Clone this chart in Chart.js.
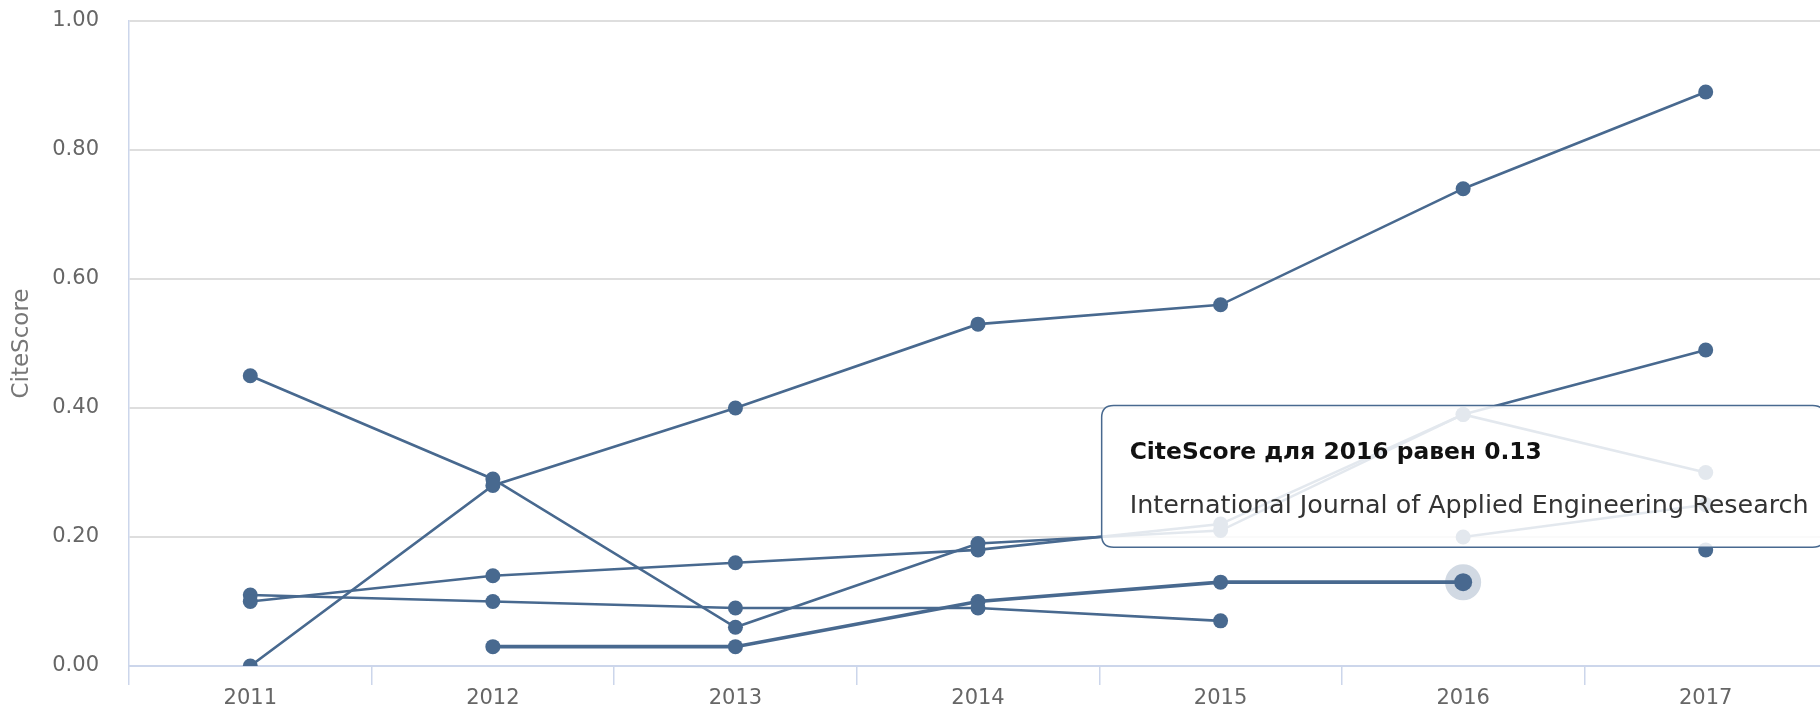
<!DOCTYPE html>
<html>
<head>
<meta charset="utf-8">
<script src="https://cdn.jsdelivr.net/npm/chart.js@4"></script>
<style>
  html, body { margin: 0; padding: 0; background: #fff; overflow: hidden; }
  #wrap { width: 1840px; height: 707px; }
</style>
</head>
<body>
<div id="wrap"><canvas id="myChart"></canvas></div>
<script>
// Years on the x axis
const years = ['2011', '2012', '2013', '2014', '2015', '2016', '2017'];

// CiteScore values per source (null = no value that year)
const sourceA = [0.00, 0.28, 0.40, 0.53, 0.56, 0.74, 0.89];
const sourceB = [0.45, 0.29, 0.06, 0.19, 0.21, 0.39, 0.30];
const sourceC = [0.10, 0.14, 0.16, 0.18, 0.22, 0.39, 0.49];
const sourceD = [0.11, 0.10, 0.09, 0.09, 0.07, null, null];
const ijaer   = [null, 0.03, 0.03, 0.10, 0.13, 0.13, null];
const sourceF = [null, null, null, null, null, 0.20, 0.25];
const sourceG = [null, null, null, null, null, null, 0.18];

const ijaerName = 'International Journal of Applied Engineering Research';
const yTicks = [0, 0.2, 0.4, 0.6, 0.8, 1.0];

document.addEventListener("DOMContentLoaded", () => {
  const lineColor = '#48698f';
  Chart.defaults.font.family = "'DejaVu Sans', sans-serif";

  const makeSet = (label, data, extra) => Object.assign({
    label: label,
    data: data,
    borderColor: lineColor,
    backgroundColor: lineColor,
    borderWidth: 2.6,
    pointRadius: 7.5,
    pointBorderWidth: 0,
    pointBackgroundColor: lineColor,
    tension: 0,
    spanGaps: false
  }, extra || {});

  const datasets = [
    makeSet('Source A', sourceA),
    makeSet('Source B', sourceB),
    makeSet('Source C', sourceC),
    makeSet('Source D', sourceD),
    makeSet(ijaerName, ijaer, {
      borderWidth: 3.6,
      pointHoverRadius: 9,
      pointHoverBorderWidth: 18,
      pointHoverBackgroundColor: lineColor,
      pointHoverBorderColor: 'rgba(72,105,143,0.25)'
    }),
    makeSet('Source F', sourceF),
    makeSet('Source G', sourceG)
  ];

  const ctx = document.getElementById('myChart').getContext('2d');
  const chart = new Chart(ctx, {
    type: 'line',
    data: { labels: years, datasets: datasets },
    options: {
      responsive: true,
      maintainAspectRatio: false,
      animation: false,
      events: [],
      layout: { padding: { top: 21, right: 13, bottom: 0, left: 0 } },
      plugins: {
        legend: { display: false },
        tooltip: {
          enabled: true,
          displayColors: false,
          backgroundColor: 'rgba(255,255,255,0.85)',
          borderColor: lineColor,
          borderWidth: 1.5,
          cornerRadius: 12,
          caretSize: 0,
          caretPadding: 35,
          xAlign: 'center',
          yAlign: 'bottom',
          padding: { top: 33, bottom: 26, left: 28, right: 16 },
          titleFont: { size: 23.4, weight: 'bold' },
          titleColor: '#111',
          titleMarginBottom: 24,
          bodyFont: { size: 25.4 },
          bodyColor: '#333',
          callbacks: {
            title: items => 'CiteScore для ' + items[0].label + ' равен ' + items[0].parsed.y.toFixed(2),
            label: item => item.dataset.label
          }
        }
      },
      scales: {
        x: {
          offset: true,
          grid: {
            offset: true,
            drawOnChartArea: false,
            drawTicks: true,
            tickLength: 19,
            color: '#ccd6eb',
            lineWidth: 1.5
          },
          border: { display: true, color: '#ccd6eb', width: 2 },
          ticks: { color: '#666', font: { size: 21 }, padding: 1 },
          afterFit: scale => { scale.height = 41; }
        },
        y: {
          min: 0,
          max: 1,
          afterBuildTicks: scale => { scale.ticks = yTicks.map(v => ({ value: v })); },
          grid: {
            drawTicks: true,
            tickLength: 30,
            tickColor: 'rgba(0,0,0,0)',
            color: '#dedede',
            lineWidth: 2
          },
          border: { display: true, color: '#ccd6eb', width: 1.5 },
          ticks: {
            color: '#666',
            font: { size: 21 },
            padding: 0,
            callback: v => v.toFixed(2)
          },
          title: {
            display: true,
            text: 'CiteScore',
            color: '#777',
            font: { size: 23 },
            padding: { top: 8, bottom: 0 }
          },
          afterFit: scale => { scale.width = 129; }
        }
      }
    }
  });

  // Show the hovered point of the highlighted journal, as in the source
  const active = [{ datasetIndex: 4, index: 5 }];
  chart.setActiveElements(active);
  chart.tooltip.setActiveElements(active, { x: 0, y: 0 });
  chart.update();
});
</script>
</body>
</html>
